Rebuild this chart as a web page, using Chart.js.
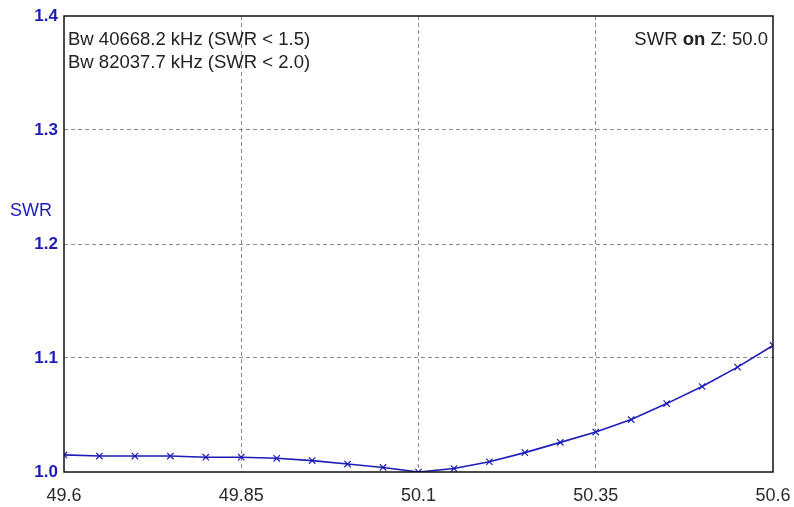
<!DOCTYPE html>
<html>
<head>
<meta charset="utf-8">
<script src="https://cdn.jsdelivr.net/npm/chart.js@4"></script>
<style>
html,body{margin:0;padding:0;background:#fff;}
#wrap{width:794px;height:507px;}
</style>
</head>
<body>
<div id="wrap"><canvas id="c" width="794" height="507"></canvas></div>
<script>
const freqs = [49.60,49.65,49.70,49.75,49.80,49.85,49.90,49.95,50.00,50.05,50.10,50.15,50.20,50.25,50.30,50.35,50.40,50.45,50.50,50.55,50.60];
const swr   = [1.015,1.014,1.014,1.014,1.013,1.013,1.012,1.010,1.007,1.004,1.000,1.003,1.009,1.017,1.026,1.035,1.046,1.060,1.075,1.092,1.111];
const xTicks = [49.6, 49.85, 50.1, 50.35, 50.6];
const xTickLabels = ["49.6","49.85","50.1","50.35","50.6"];
const yTicks = [1.0, 1.1, 1.2, 1.3, 1.4];
const yTickLabels = ["1.0","1.1","1.2","1.3","1.4"];
const infoLines = ["Bw 40668.2 kHz (SWR < 1.5)", "Bw 82037.7 kHz (SWR < 2.0)"];
const yAxisLabel = "SWR";

const blue = '#1c1cb8';
const FONT = "'Liberation Sans', Arial, sans-serif";

const overlay = {
  id: 'overlay',
  afterDraw(chart) {
    const ctx = chart.ctx, a = chart.chartArea;
    ctx.save();
    ctx.strokeStyle = '#111';
    ctx.lineWidth = 1.5;
    ctx.setLineDash([]);
    ctx.strokeRect(a.left, a.top, a.right - a.left, a.bottom - a.top);
    ctx.fillStyle = '#222';
    ctx.font = "18.5px " + FONT;
    ctx.textBaseline = 'middle';
    ctx.textAlign = 'left';
    ctx.fillText(infoLines[0], a.left + 4, 40);
    ctx.fillText(infoLines[1], a.left + 4, 63);
    const p1 = "SWR ", p2 = "on", p3 = " Z: 50.0";
    ctx.font = "18.5px " + FONT; const w1 = ctx.measureText(p1).width, w3 = ctx.measureText(p3).width;
    ctx.font = "bold 18.5px " + FONT; const w2 = ctx.measureText(p2).width;
    let x = a.right - 5 - (w1 + w2 + w3);
    ctx.font = "18.5px " + FONT; ctx.fillText(p1, x, 40); x += w1;
    ctx.font = "bold 18.5px " + FONT; ctx.fillText(p2, x, 40); x += w2;
    ctx.font = "18.5px " + FONT; ctx.fillText(p3, x, 40);
    ctx.fillStyle = blue;
    ctx.font = "18px " + FONT;
    ctx.fillText(yAxisLabel, 10, 211);
    ctx.restore();
  }
};

new Chart(document.getElementById('c'), {
  type: 'line',
  data: {
    datasets: [{
      data: freqs.map((f, i) => ({x: f, y: swr[i]})),
      borderColor: blue,
      backgroundColor: blue,
      borderWidth: 1.6,
      pointStyle: 'crossRot',
      pointRadius: 4.5,
      pointBorderWidth: 1.2,
      pointBorderColor: blue,
      tension: 0,
      fill: false
    }]
  },
  options: {
    responsive: false,
    animation: false,
    devicePixelRatio: 1,
    layout: { padding: { left: 0, right: 21, top: 16, bottom: 0 } },
    plugins: { legend: { display: false }, tooltip: { enabled: false } },
    scales: {
      x: {
        type: 'linear',
        min: 49.6, max: 50.6,
        afterBuildTicks(s) { s.ticks = xTicks.map(v => ({value: v})); },
        afterFit(s) { s.height = 35; s.paddingLeft = 0; s.paddingRight = 0; },
        ticks: {
          padding: 13,
          color: '#2a2a2a',
          font: { family: FONT, size: 18 },
          maxRotation: 0,
          autoSkip: false,
          callback(v, i) { return xTickLabels[i]; }
        },
        grid: {
          drawTicks: false,
          color: (c) => (c.index === 0 || c.index === xTicks.length - 1) ? 'rgba(0,0,0,0)' : '#8c8c8c',
          lineWidth: 1
        },
        border: { display: false, dash: [4, 3] }
      },
      y: {
        type: 'linear',
        min: 1.0, max: 1.4,
        afterBuildTicks(s) { s.ticks = yTicks.map(v => ({value: v})); },
        afterFit(s) { s.width = 64; s.paddingTop = 0; s.paddingBottom = 0; },
        ticks: {
          padding: 6,
          color: blue,
          font: { family: FONT, size: 17, weight: 'bold' },
          autoSkip: false,
          callback(v, i) { return yTickLabels[i]; }
        },
        grid: {
          drawTicks: false,
          color: (c) => (c.index === 0 || c.index === yTicks.length - 1) ? 'rgba(0,0,0,0)' : '#8c8c8c',
          lineWidth: 1
        },
        border: { display: false, dash: [4, 3] }
      }
    }
  },
  plugins: [overlay]
});
</script>
</body>
</html>
